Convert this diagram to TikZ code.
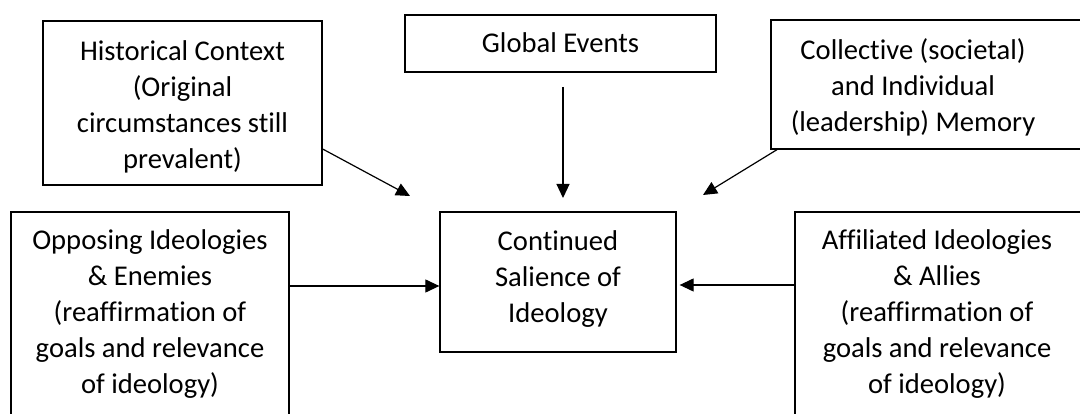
\documentclass[tikz,border=0pt]{standalone}
\usepackage{fontspec}
\setmainfont{Carlito}[Ligatures=CommonOff]
\usetikzlibrary{arrows.meta,calc}
\begin{document}
\begin{tikzpicture}[x=1pt,y=-1pt,
  box/.style={draw, line width=1.3pt, inner sep=0pt},
  lbl/.style={align=center, font=\fontsize{28.6}{36}\selectfont, inner sep=0pt},
  arr/.style={line width=1.2pt, -{Triangle[length=14pt,width=13pt]}}]
\useasboundingbox (0,0) rectangle (1080,414);
\clip (0,0) rectangle (1080,414);
% boxes
\node[box, minimum width=279pt, minimum height=164pt] (hist) at (182.5,103) {};
\node[box, minimum width=311pt, minimum height=57pt] (glob) at (560.5,43.5) {};
\node[box, minimum width=329pt, minimum height=129pt] (coll) at (935.5,84.5) {};
\node[box, minimum width=278pt, minimum height=218pt] (opp) at (150,321) {};
\node[box, minimum width=236pt, minimum height=140pt] (cont) at (558,282) {};
\node[box, minimum width=315pt, minimum height=218pt] (aff) at (952.5,321) {};
% texts
\node[lbl] (histT) at (182.5,107) {Historical Context\\(Original\\circumstances still\\prevalent)};
\node[lbl] (globT) at (560.5,43) {Global Events};
\node[lbl] (collT) at (913,87) {Collective (societal)\\and Individual\\(leadership) Memory};
\node[lbl] (contT) at (558,279) {Continued\\Salience of\\Ideology};
\node[lbl] (oppT) at (150,314) {Opposing Ideologies\\\& Enemies\\(reaffirmation of\\goals and relevance\\of ideology)};
\node[lbl] (affT) at (937,314) {Affiliated Ideologies\\\& Allies\\(reaffirmation of\\goals and relevance\\of ideology)};
% connector ends
\coordinate (histEnd) at (410,196);
\coordinate (globStart) at (563,87);
\coordinate (globEnd) at (563,198);
\coordinate (collEnd) at (703,195);
% connectors
\draw[arr] (hist.east |- 0,149) -- (histEnd);
\draw[arr] (globStart) -- (globEnd);
\draw[arr] (coll.south west -| 777,0) -- (collEnd);
\draw[arr] (opp.east |- 0,286) -- (cont.west |- 0,286);
\draw[arr] (aff.west |- 0,285) -- ($(cont.east |- 0,285)+(3,0)$);
\end{tikzpicture}
\end{document}
